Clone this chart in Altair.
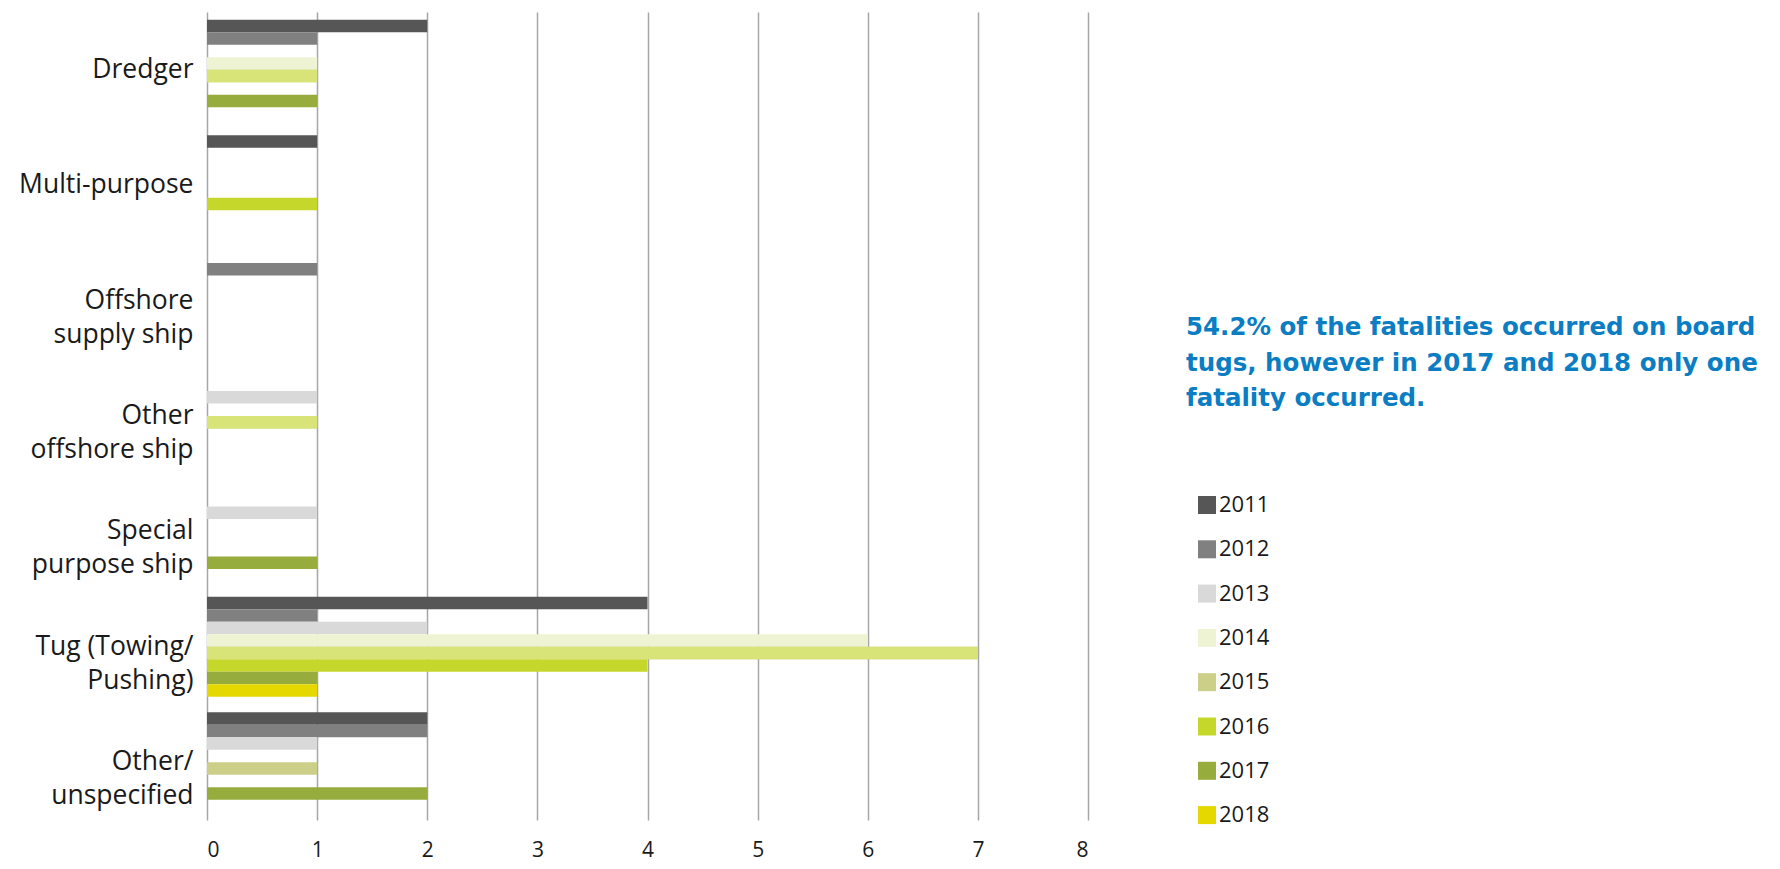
import altair as alt
import pandas as pd

years = ["2011", "2012", "2013", "2014", "2015", "2016", "2017", "2018"]
categories = [
    "Dredger",
    "Multi-purpose",
    "Offshore|supply ship",
    "Other|offshore ship",
    "Special|purpose ship",
    "Tug (Towing/|Pushing)",
    "Other/|unspecified",
]
dredger = [2, 1, 0, 1, 1, 0, 1, 0]
multi_purpose = [1, 0, 0, 0, 0, 1, 0, 0]
offshore_supply = [0, 1, 0, 0, 0, 0, 0, 0]
other_offshore = [0, 0, 1, 0, 1, 0, 0, 0]
special_purpose = [0, 0, 1, 0, 0, 0, 1, 0]
tug = [4, 1, 2, 6, 7, 4, 1, 1]
other_unspecified = [2, 2, 1, 0, 1, 0, 2, 0]

year_colors = ["#565656", "#808080", "#d9d9d9", "#eef4d3", "#cccf88", "#c4d72a", "#96ac3c", "#e4d800"]
recolor_year = "2015"
recolor_color = "#d8e478"
recolor_categories = ["Dredger", "Other|offshore ship", "Tug (Towing/|Pushing)"]
x_ticks = [0, 1, 2, 3, 4, 5, 6, 7, 8]
annotation = "54.2% of the fatalities occurred on board\ntugs, however in 2017 and 2018 only one\nfatality occurred."

series = [dredger, multi_purpose, offshore_supply, other_offshore,
          special_purpose, tug, other_unspecified]
rows = []
for cat, vals in zip(categories, series):
    for yr, v in zip(years, vals):
        rows.append({"category": cat, "year": yr, "value": v,
                     "recolor": bool(yr == recolor_year and cat in recolor_categories)})
df = pd.DataFrame(rows)

FONT = "Open Sans"

x = alt.X("value:Q", scale=alt.Scale(domain=[0, 8], nice=False),
          axis=alt.Axis(values=x_ticks, title=None, grid=True, gridColor="#a6a6a6",
                        gridWidth=1.5, domain=False, ticks=False, labelPadding=19,
                        labelFontSize=21, labelFont=FONT, labelColor="#1a1a1a", format="d"))
y = alt.Y("category:N", sort=categories,
          scale=alt.Scale(paddingInner=0.133, paddingOuter=0.067),
          axis=alt.Axis(title=None, domain=False, ticks=False,
                        labelExpr="split(datum.label, '|')", labelFontSize=26.5,
                        labelLineHeight=34, labelPadding=14, labelLimit=400,
                        labelFont=FONT, labelColor="#1a1a1a"))
yoff = alt.YOffset("year:N", sort=years, scale=alt.Scale(paddingInner=0, paddingOuter=0))

base = alt.Chart(df)
bars = base.mark_bar().encode(
    x=x, y=y, yOffset=yoff,
    color=alt.Color("year:N", scale=alt.Scale(domain=years, range=year_colors),
                    legend=alt.Legend(title=None, orient="none", legendX=989, legendY=482,
                                      symbolType="square", symbolSize=324,
                                      symbolStrokeWidth=0, labelFontSize=22,
                                      labelFont=FONT, labelOffset=1, rowPadding=22.3,
                                      labelColor="#1a1a1a", padding=0)),
)
over = base.transform_filter("datum.recolor").mark_bar(color=recolor_color).encode(
    x=x, y=y, yOffset=yoff)

text = alt.Chart(pd.DataFrame({"t": [annotation]})).mark_text(
    align="left", baseline="alphabetic", lineBreak="\n", lineHeight=35.5,
    fontSize=24.5, fontWeight="bold", font="DejaVu Sans", color="#0b7dc3"
).encode(x=alt.value(979), y=alt.value(323), text="t:N")

chart = alt.layer(bars, over, text).properties(
    width=881, height=808,
    autosize=alt.AutoSizeParams(type="none"),
    padding={"left": 199, "top": 4, "right": 680, "bottom": 41},
).configure_view(stroke=None)

chart.save("out.html", embed_options={"renderer": "svg", "actions": False})
